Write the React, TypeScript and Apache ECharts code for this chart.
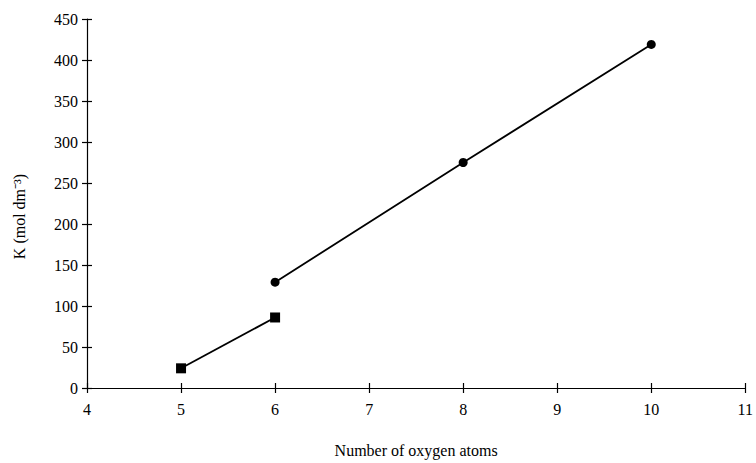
import React, { useEffect, useRef } from "react";
import * as echarts from "echarts";

const squareX = [5, 6];
const squareY = [24, 86];
const circleX = [6, 8, 10];
const circleY = [129, 275, 419];
const xTicks = [4, 5, 6, 7, 8, 9, 10, 11];
const yTicks = [0, 50, 100, 150, 200, 250, 300, 350, 400, 450];

const FONT = "Liberation Serif";

export default function App() {
  const ref = useRef<HTMLDivElement>(null);
  useEffect(() => {
    if (!ref.current) return;
    const chart = echarts.init(ref.current, undefined, { renderer: "svg" });
    const baseX = {
      type: "value",
      min: xTicks[0],
      max: xTicks[xTicks.length - 1],
      interval: 1,
      position: "bottom",
      splitLine: { show: false },
    };
    const baseY = {
      type: "value",
      min: yTicks[0],
      max: yTicks[yTicks.length - 1],
      interval: 50,
      position: "left",
      splitLine: { show: false },
    };
    chart.setOption({
      animation: false,
      backgroundColor: "#ffffff",
      grid: { left: 87, right: 9, top: 19, bottom: 74, containLabel: false },
      xAxis: [
        {
          ...baseX,
          name: "Number of oxygen atoms",
          nameLocation: "middle",
          nameGap: 54,
          nameTextStyle: { fontFamily: FONT, fontSize: 16, color: "#000" },
          axisLine: { show: true, lineStyle: { color: "#000", width: 1.2 } },
          axisTick: { show: true, length: 5, lineStyle: { color: "#000", width: 1.2 } },
          axisLabel: { fontFamily: FONT, fontSize: 16, color: "#000", margin: 13 },
        },
        {
          ...baseX,
          axisLine: { show: false },
          axisTick: { show: true, inside: true, length: 5, lineStyle: { color: "#000", width: 1.2 } },
          axisLabel: { show: false },
        },
      ],
      yAxis: [
        {
          ...baseY,
          name: "K (mol dm⁻³)",
          nameLocation: "middle",
          nameGap: 60,
          nameTextStyle: { fontFamily: FONT, fontSize: 16, color: "#000", padding: [0, 26, 0, 0] },
          axisLine: { show: true, lineStyle: { color: "#000", width: 1.2 } },
          axisTick: { show: true, length: 5, lineStyle: { color: "#000", width: 1.2 } },
          axisLabel: { fontFamily: FONT, fontSize: 16, color: "#000", margin: 9 },
        },
        {
          ...baseY,
          axisLine: { show: false },
          axisTick: { show: true, inside: true, length: 5, lineStyle: { color: "#000", width: 1.2 } },
          axisLabel: { show: false },
        },
      ],
      series: [
        {
          type: "line",
          data: squareX.map((x, i) => [x, squareY[i]]),
          symbol: "rect",
          symbolSize: 10,
          showSymbol: true,
          itemStyle: { color: "#000" },
          lineStyle: { color: "#000", width: 1.8 },
        },
        {
          type: "line",
          data: circleX.map((x, i) => [x, circleY[i]]),
          symbol: "circle",
          symbolSize: 9,
          showSymbol: true,
          itemStyle: { color: "#000" },
          lineStyle: { color: "#000", width: 1.8 },
        },
      ],
    });
    return () => chart.dispose();
  }, []);
  return <div ref={ref} style={{ width: 756, height: 463, position: "absolute", left: 0, top: 0 }} />;
}
